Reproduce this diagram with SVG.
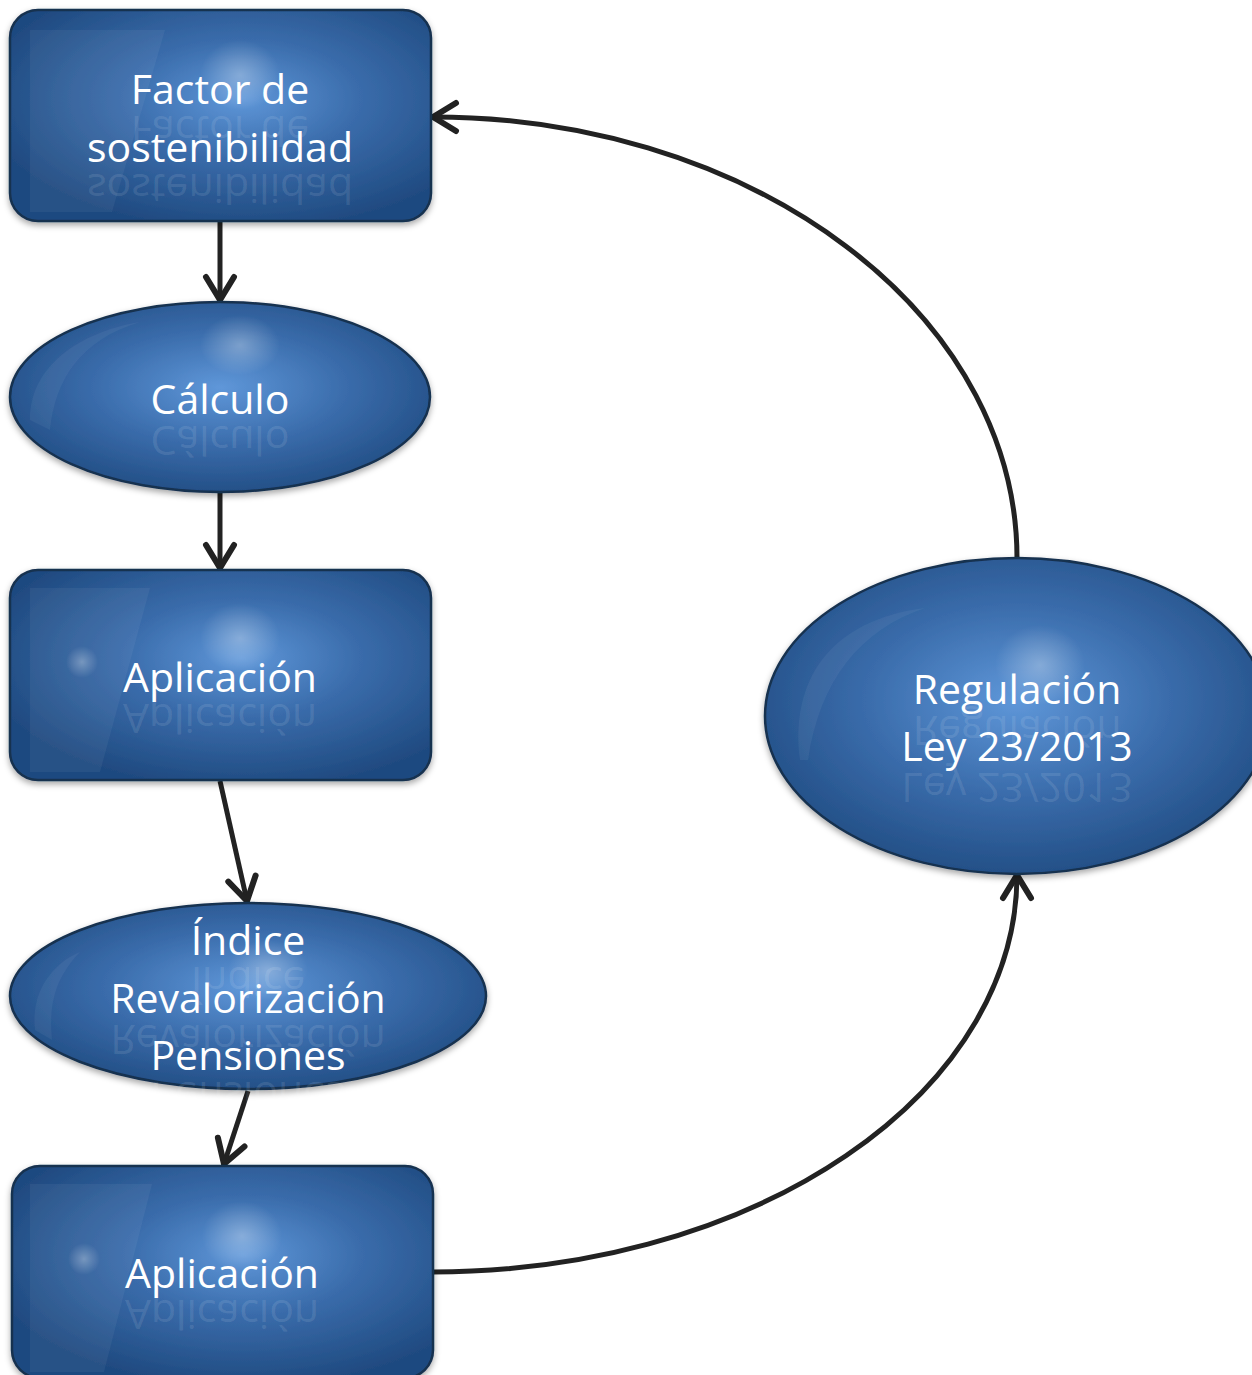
<svg xmlns="http://www.w3.org/2000/svg" width="1252" height="1375" viewBox="0 0 1252 1375">
<defs>
<radialGradient id="gBox" cx="0.55" cy="0.42" r="0.62" gradientUnits="objectBoundingBox">
<stop offset="0" stop-color="#5f97d9"/>
<stop offset="0.45" stop-color="#3a6cab"/>
<stop offset="1" stop-color="#1f4a80"/>
</radialGradient>
<radialGradient id="gEll" cx="0.5" cy="0.45" r="0.6">
<stop offset="0" stop-color="#5f97d9"/>
<stop offset="0.5" stop-color="#3a6cab"/>
<stop offset="1" stop-color="#1f4a80"/>
</radialGradient>
<radialGradient id="spot" cx="0.5" cy="0.5" r="0.5">
<stop offset="0" stop-color="#ffffff" stop-opacity="0.3"/>
<stop offset="1" stop-color="#ffffff" stop-opacity="0"/>
</radialGradient>
<filter id="sh" x="-10%" y="-10%" width="120%" height="130%">
<feDropShadow dx="0" dy="3" stdDeviation="3" flood-color="#000" flood-opacity="0.35"/>
</filter>
<marker id="arr" viewBox="0 0 36 36" refX="31" refY="18" markerWidth="36" markerHeight="36" markerUnits="userSpaceOnUse" orient="auto">
<path d="M8,4 L31,18 L8,32" fill="none" stroke="#222" stroke-width="6" stroke-linecap="round" stroke-linejoin="round"/>
</marker>
<style>
.node{stroke:#17304f;stroke-width:2.5}
.box{fill:url(#gBox)}
.ell{fill:url(#gEll)}
.gloss{fill:#ffffff;fill-opacity:0.05}
.t{font-family:"Open Sans","Noto Sans","Liberation Sans",sans-serif;font-size:41px;fill:#ffffff;text-anchor:middle}
.r{font-family:"Open Sans","Noto Sans","Liberation Sans",sans-serif;font-size:41px;fill:#ffffff;fill-opacity:0.11;text-anchor:middle}
.c{fill:none;stroke:#222;stroke-width:5;marker-end:url(#arr)}
</style>
</defs>
<rect width="1252" height="1375" fill="#ffffff"/>

<g id="connectors">
<path class="c" d="M220,222 L220,300"/>
<path class="c" d="M220,492 L220,568"/>
<path class="c" d="M220,781 L247,901"/>
<path class="c" d="M248,1091 L224,1164"/>
<path class="c" d="M1017,558 A584,441 0 0 0 433,117"/>
<path class="c" d="M433,1272 A584,397 0 0 0 1017,875"/>
</g>

<g id="n1">
<rect class="node box" x="10" y="10" width="421" height="211" rx="28" filter="url(#sh)"/>
<path class="gloss" d="M30,30 L165,30 L112,212 L30,212 Z"/>
<ellipse cx="240" cy="75" rx="40" ry="35" fill="url(#spot)"/>
<text class="t" x="220" y="104">Factor de</text>
<text class="r" transform="matrix(1 0 0 -1 0 220)" x="220" y="104">Factor de</text>
<text class="t" x="220" y="162">sostenibilidad</text>
<text class="r" transform="matrix(1 0 0 -1 0 336)" x="220" y="162">sostenibilidad</text>
</g>

<g id="n2">
<ellipse class="node ell" cx="220" cy="397" rx="210" ry="95" filter="url(#sh)"/>
<path class="gloss" d="M30,420 C30,360 90,330 140,322 C80,340 55,380 50,430 Z"/>
<ellipse cx="240" cy="345" rx="40" ry="30" fill="url(#spot)"/>
<text class="t" x="220" y="414">Cálculo</text>
<text class="r" transform="matrix(1 0 0 -1 0 840)" x="220" y="414">Cálculo</text>
</g>

<g id="n3">
<rect class="node box" x="10" y="570" width="421" height="210" rx="28" filter="url(#sh)"/>
<path class="gloss" d="M30,588 L150,588 L100,772 L30,772 Z"/>
<ellipse cx="82" cy="662" rx="16" ry="16" fill="url(#spot)"/>
<ellipse cx="240" cy="638" rx="40" ry="35" fill="url(#spot)"/>
<text class="t" x="220" y="692">Aplicación</text>
<text class="r" transform="matrix(1 0 0 -1 0 1396)" x="220" y="692">Aplicación</text>
</g>

<g id="n4">
<ellipse class="node ell" cx="248" cy="996" rx="238" ry="93" filter="url(#sh)"/>
<path class="gloss" d="M35,1030 C30,985 60,960 80,952 C58,975 48,1000 52,1040 Z"/>
<ellipse cx="268" cy="970" rx="40" ry="30" fill="url(#spot)"/>
<text class="t" x="248" y="955">Índice</text>
<text class="r" transform="matrix(1 0 0 -1 0 1922)" x="248" y="955">Índice</text>
<text class="t" x="248" y="1013">Revalorización</text>
<text class="r" transform="matrix(1 0 0 -1 0 2038)" x="248" y="1013">Revalorización</text>
<text class="t" x="248" y="1070">Pensiones</text>
<text class="r" transform="matrix(1 0 0 -1 0 2152)" x="248" y="1070">Pensiones</text>
</g>

<g id="n5">
<rect class="node box" x="12" y="1166" width="421" height="212" rx="28" filter="url(#sh)"/>
<path class="gloss" d="M30,1184 L152,1184 L104,1372 L30,1372 Z"/>
<ellipse cx="84" cy="1259" rx="16" ry="16" fill="url(#spot)"/>
<ellipse cx="242" cy="1236" rx="40" ry="35" fill="url(#spot)"/>
<text class="t" x="222" y="1288">Aplicación</text>
<text class="r" transform="matrix(1 0 0 -1 0 2588)" x="222" y="1288">Aplicación</text>
</g>

<g id="n6">
<ellipse class="node ell" cx="1017" cy="716" rx="252" ry="158" filter="url(#sh)"/>
<path class="gloss" d="M800,760 C790,680 830,620 925,608 C860,630 820,680 808,760 Z"/>
<ellipse cx="1040" cy="665" rx="45" ry="40" fill="url(#spot)"/>
<text class="t" x="1017" y="704">Regulación</text>
<text class="r" transform="matrix(1 0 0 -1 0 1420)" x="1017" y="704">Regulación</text>
<text class="t" x="1017" y="761">Ley 23/2013</text>
<text class="r" transform="matrix(1 0 0 -1 0 1534)" x="1017" y="761">Ley 23/2013</text>
</g>
</svg>
